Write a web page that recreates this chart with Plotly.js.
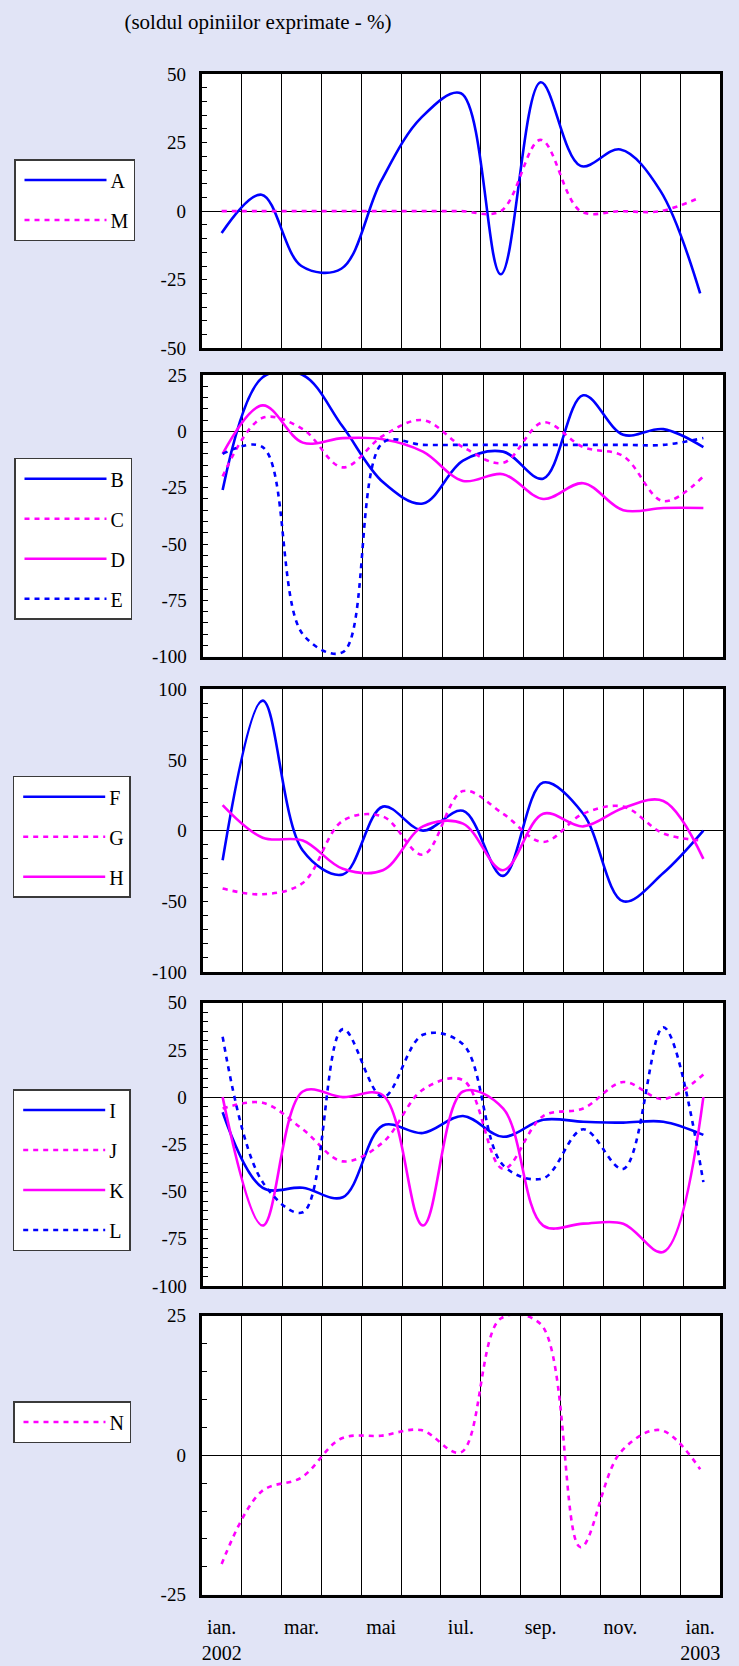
<!DOCTYPE html>
<html><head><meta charset="utf-8">
<script src="https://cdn.plot.ly/plotly-3.0.1.min.js"></script>
<style>html,body{margin:0;padding:0;background:#e1e4f6;} #chart{width:739px;height:1666px;}</style>
</head><body><div id="chart"></div><script>
const months = ['ian. 2002','feb. 2002','mar. 2002','apr. 2002','mai 2002','iun. 2002','iul. 2002','aug. 2002','sep. 2002','oct. 2002','nov. 2002','dec. 2002','ian. 2003'];
const monthTicks = ['ian.<br>2002','','mar.','','mai','','iul.','','sep.','','nov.','','ian.<br>2003'];
const A = [-8, 6, -20, -21, 11, 34, 43, -23, 47, 16.5, 22.5, 7.5, -30];
const M = [0, 0, 0, 0, 0, 0, 0, 0, 26, 0, 0, 0, 5];
const B = [-26, 24, 25, 2, -22.5, -32, -13, -9, -21, 16, -1.5, 1, -7];
const C = [-20, 6, 1, -16, -2, 5, -7, -14, 4, -7, -11, -31, -20];
const D = [-10, 11.5, -5, -3, -3.5, -9, -22, -19, -30, -23, -35, -34, -34];
const E = [-10, -7, -90, -98, -5, -6, -6, -6, -6, -6, -6, -6, -3];
const F = [-21, 92, -14, -31, 17, 0, 14, -32, 34, 12, -50, -30, 0];
const G = [-41, -45, -37, 7, 10, -17, 28, 12, -8, 12, 17, -2, -7];
const H = [18, -5, -7, -27, -28, 3, 5, -28, 12, 3, 16, 21, -20];
const I = [-8, -48, -48, -53, -15, -19, -10, -21, -12, -13, -13.5, -13, -20];
const J = [-6, -3, -17, -34, -24, 4, 9, -38, -10, -6, 8, -1, 12];
const K = [0, -68, 3, 0, 1, -68, 3, -6, -68, -67, -67, -82, 0];
const L = [32, -45, -61, 36, 0, 33, 28, -36, -43, -17, -38, 37, -45];
const N = [-19.5, -6.5, -4, 3, 3.5, 4.5, 0.5, 24.5, 23.5, -16.5, 0.5, 4.5, -2.5];

const BLUE = '#0000ff', MAG = '#ff00ff';
const FONT = 'Liberation Serif';
const WIDTH = 739, HEIGHT = 1666;
const fy = px => 1 - px / HEIGHT;
const fx = px => px / WIDTH;

const panels = [
  {top:74, bot:348.3, x0:201.7, x1:720.1, range:[-50,50], dtick:25, minor:5, leg:[14,159],
   series:[['A',A,BLUE,'solid'],['M',M,MAG,'dash']]},
  {top:375, bot:656.7, x0:202.6, x1:723.4, range:[-100,25], dtick:25, minor:5, leg:[14,457.7],
   series:[['B',B,BLUE,'solid'],['C',C,MAG,'dash'],['D',D,MAG,'solid'],['E',E,BLUE,'dash']]},
  {top:689.3, bot:972, x0:202.6, x1:723.4, range:[-100,100], dtick:50, minor:10, leg:[12.7,775.7],
   series:[['F',F,BLUE,'solid'],['G',G,MAG,'dash'],['H',H,MAG,'solid']]},
  {top:1002.7, bot:1286, x0:202.6, x1:723.4, range:[-100,50], dtick:25, minor:5, leg:[12.7,1089],
   series:[['I',I,BLUE,'solid'],['J',J,MAG,'dash'],['K',K,MAG,'solid'],['L',L,BLUE,'dash']]},
  {top:1315.7, bot:1594.7, x0:201.7, x1:720.1, range:[-25,25], dtick:25, minor:5, leg:[13,1401],
   series:[['N',N,MAG,'dash']]}
];

const traces = [];
const layout = {
  width: WIDTH, height: HEIGHT,
  margin: {l:0, r:0, t:0, b:0},
  paper_bgcolor: 'rgba(0,0,0,0)',
  plot_bgcolor: '#ffffff',
  showlegend: true,
  font: {family: FONT, color: '#000', size: 19},
  title: {text: '(soldul opiniilor exprimate - %)', x: fx(258), xanchor: 'center',
          y: fy(22), yanchor: 'middle', font: {family: FONT, size: 21, color: '#000'}}
};

panels.forEach((p, k) => {
  const n = k + 1;
  const xa = n === 1 ? 'xaxis' : 'xaxis' + n;
  const ya = n === 1 ? 'yaxis' : 'yaxis' + n;
  const xr = n === 1 ? 'x' : 'x' + n;
  const yr = n === 1 ? 'y' : 'y' + n;
  const lg = n === 1 ? 'legend' : 'legend' + n;
  const yticks = [];
  for (let v = p.range[0]; v <= p.range[1] + 1e-9; v += p.dtick) yticks.push(v);
  layout[xa] = {
    domain: [fx(p.x0), fx(p.x1)], anchor: yr, type: 'category',
    categoryorder: 'array', categoryarray: months,
    range: [-0.5, months.length - 0.5], fixedrange: true,
    tickson: 'boundaries', showgrid: true, gridcolor: '#000', gridwidth: 1,
    ticks: '', tickmode: 'array', tickvals: months, tickangle: 0, automargin: false,
    ticktext: n === 5 ? monthTicks : months.map(() => ''),
    showticklabels: n === 5, ticklabelstandoff: 12,
    tickfont: {family: FONT, size: 20, color: '#000'},
    showline: true, linecolor: '#000', linewidth: 3, mirror: true, zeroline: false
  };
  layout[ya] = {
    domain: [fy(p.bot), fy(p.top)], anchor: xr, range: p.range, fixedrange: true,
    tickmode: 'array', tickvals: yticks, ticktext: yticks.map(v => String(v)),
    ticks: 'inside', ticklen: 5, tickcolor: '#000', tickwidth: 1,
    minor: {tickmode: 'linear', dtick: p.minor, tick0: 0, ticks: 'inside', ticklen: 5, tickcolor: '#000', tickwidth: 1, showgrid: false},
    showgrid: false, zeroline: true, zerolinecolor: '#000', zerolinewidth: 1,
    showline: true, linecolor: '#000', linewidth: 3, mirror: true, automargin: false,
    tickfont: {family: FONT, size: 19, color: '#000'}, ticklabelstandoff: 9
  };
  layout[lg] = {
    x: fx(p.leg[0]), y: fy(p.leg[1]), xanchor: 'left', yanchor: 'top',
    xref: 'paper', yref: 'paper',
    bgcolor: '#ffffff', bordercolor: '#3a3a3a', borderwidth: 1.5,
    font: {family: FONT, size: 20, color: '#000'},
    itemwidth: 85, tracegroupgap: 11, traceorder: 'grouped', itemclick: false, itemdoubleclick: false
  };
  p.series.forEach(([name, vals, color, dash]) => {
    traces.push({
      type: 'scatter', mode: 'lines', name: name, x: months, y: vals,
      xaxis: xr, yaxis: yr, legend: lg, legendgroup: name,
      line: {color: color, width: 2.6, shape: 'spline', smoothing: 1,
             dash: dash === 'dash' ? '5px,5px' : 'solid'},
      hoverinfo: 'skip'
    });
  });
});

Plotly.newPlot('chart', traces, layout, {staticPlot: true}).then(gd => {
  gd.querySelectorAll('.legendlines path').forEach(p => p.setAttribute('d', 'M9,0h82'));
});
</script></body></html>
